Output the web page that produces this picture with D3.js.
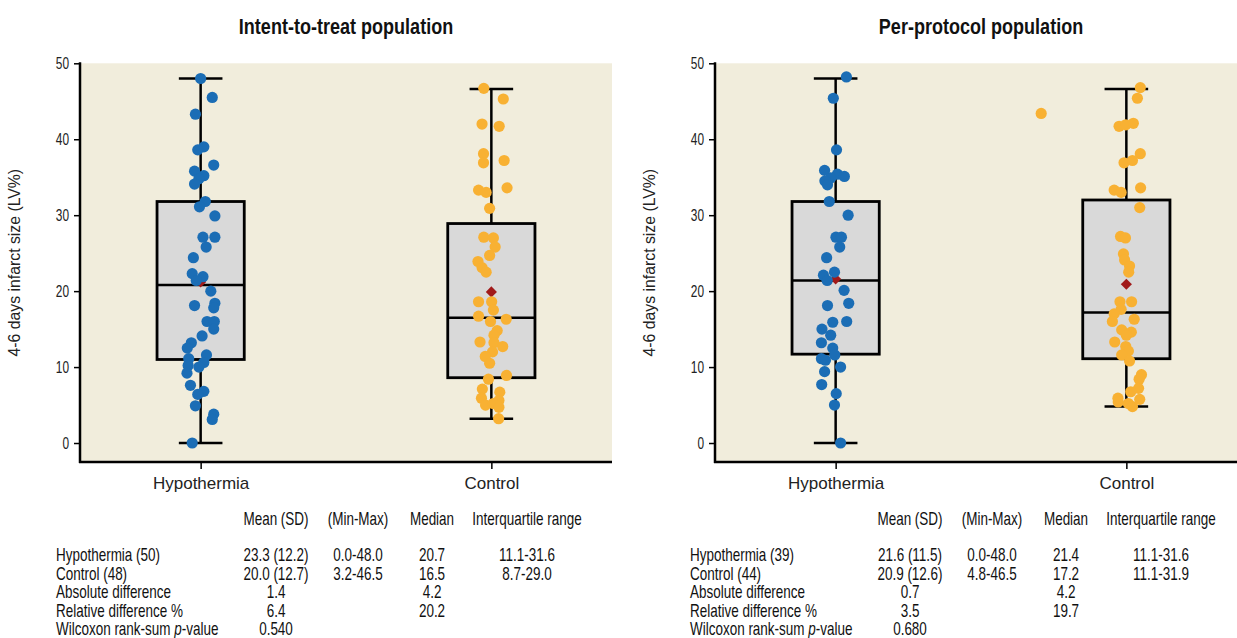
<!DOCTYPE html>
<html>
<head>
<meta charset="utf-8">
<script src="https://cdn.jsdelivr.net/npm/d3@7"></script>
<style>
  body { margin: 0; background: #fff; }
  svg { display: block; }
  text { font-family: 'Liberation Sans', Arial, sans-serif; }
</style>
</head>
<body>
<svg id="chart" width="1237" height="638"></svg>
<script>

// ---- data ----
let groups = ["Hypothermia", "Control"];
let panel_titles = ["Intent-to-treat population", "Per-protocol population"];
let y_ticks = [0, 10, 20, 30, 40, 50];

// box stats: [min, q1, median, q3, max, mean] per group
let itt_stats = [[0.0, 11.0, 20.8, 31.8, 48.0, 21.2], [3.2, 8.6, 16.5, 28.9, 46.6, 19.9]];
let pp_stats  = [[0.0, 11.7, 21.4, 31.8, 48.0, 21.6], [4.8, 11.1, 17.2, 32.0, 46.6, 20.9]];

// individual patients (values) and their horizontal jitter (category units)
let itt_hypo = [48.0, 45.5, 43.3, 39.0, 38.6, 36.6, 35.8, 35.2, 34.8, 34.1, 31.8, 31.1, 29.9, 27.1, 27.1, 25.8,
    24.4, 22.3, 21.9, 21.4, 20.0, 18.1, 18.4, 17.8, 16.0, 16.0, 15.0, 14.1, 13.2, 12.5, 11.6, 11.1, 10.6, 10.0,
    10.2, 9.2, 7.6, 6.8, 6.4, 4.9, 3.8, 3.1, 0.0];
let itt_hypo_jit = [0.0, 0.04, -0.018, 0.011, -0.01, 0.045, -0.021, 0.011, -0.006, -0.021, 0.016, -0.004, 0.049,
    0.008, 0.049, 0.019, -0.025, -0.029, 0.008, -0.015, 0.035, -0.021, 0.049, 0.045, 0.022, 0.047, 0.045, 0.005,
    -0.032, -0.046, 0.02, -0.041, 0.011, -0.006, -0.043, -0.047, -0.035, 0.011, -0.01, -0.018, 0.045, 0.04, -0.029];

let itt_ctrl = [46.7, 45.3, 42.0, 41.7, 38.1, 36.9, 37.2, 33.3, 33.0, 33.6, 30.9, 27.1, 27.0, 25.8, 24.7, 23.9,
    23.1, 22.5, 18.6, 18.6, 17.5, 16.7, 16.0, 16.3, 14.8, 14.2, 13.3, 13.2, 12.7, 12.0, 11.4, 10.5, 8.9, 8.4,
    7.1, 6.7, 5.9, 5.6, 5.0, 5.2, 4.7, 3.2];
let itt_ctrl_jit = [-0.026, 0.041, -0.032, 0.027, -0.027, -0.027, 0.044, -0.044, -0.018, 0.054, -0.006, -0.026,
    0.007, 0.013, -0.006, -0.046, -0.032, -0.018, -0.044, 0.001, 0.007, -0.044, -0.003, 0.051, 0.02, 0.009,
    -0.039, 0.009, 0.039, 0.004, -0.021, -0.006, 0.052, -0.01, -0.031, 0.029, -0.034, 0.026, -0.02, 0.006,
    0.026, 0.025];

let pp_hypo = [48.2, 45.4, 38.6, 35.9, 35.4, 35.1, 34.9, 34.5, 34.0, 31.8, 30.0, 27.1, 27.1, 25.8, 24.4, 22.1,
    22.5, 21.4, 20.1, 18.4, 18.1, 15.9, 16.0, 15.0, 14.2, 13.2, 12.5, 11.6, 11.1, 10.9, 10.0, 9.4, 7.7, 6.5,
    5.0, 0.0];
let pp_hypo_jit = [0.037, -0.008, 0.003, -0.038, 0.006, 0.03, -0.017, -0.037, -0.028, -0.022, 0.043, 0.001, 0.02,
    0.014, -0.031, -0.042, -0.004, -0.029, 0.029, 0.045, -0.028, -0.01, 0.038, -0.047, -0.017, -0.049, -0.01,
    -0.003, -0.049, -0.035, 0.017, -0.038, -0.048, 0.002, -0.004, 0.017];

let pp_ctrl = [46.8, 45.4, 41.7, 41.9, 42.1, 38.1, 36.9, 37.2, 33.3, 33.0, 33.6, 31.0, 27.2, 27.0, 24.9, 24.1,
    23.3, 22.5, 18.6, 18.6, 17.6, 17.0, 16.0, 16.3, 14.9, 14.6, 14.2, 13.3, 12.7, 12.1, 11.6, 10.8, 9.0, 8.4,
    7.2, 6.75, 5.9, 5.75, 5.4, 5.2, 4.8, 43.4];
let pp_ctrl_jit = [0.048, 0.038, -0.025, -0.002, 0.024, 0.048, -0.008, 0.021, -0.042, -0.018, 0.049, 0.046, -0.02,
    -0.003, -0.01, -0.006, 0.011, 0.008, -0.022, 0.018, -0.018, -0.042, -0.048, 0.027, -0.016, 0.017, 0.0,
    -0.04, -0.002, 0.007, -0.016, 0.011, 0.052, 0.044, 0.042, 0.015, -0.029, 0.046, -0.028, 0.007, 0.021, -0.293];

// summary tables
let table_head = ["Mean (SD)", "(Min-Max)", "Median", "Interquartile range"];
let table_rows = ["Hypothermia", "Control", "Absolute difference", "Relative difference %", "Wilcoxon rank-sum"];
let itt_n = [50, 48];
let pp_n = [39, 44];
let itt_table = [
    ["23.3 (12.2)", "0.0-48.0", "20.7", "11.1-31.6"],
    ["20.0 (12.7)", "3.2-46.5", "16.5", "8.7-29.0"],
    ["1.4", "", "4.2", ""],
    ["6.4", "", "20.2", ""],
    ["0.540", "", "", ""]];
let pp_table = [
    ["21.6 (11.5)", "0.0-48.0", "21.4", "11.1-31.6"],
    ["20.9 (12.6)", "4.8-46.5", "17.2", "11.1-31.9"],
    ["0.7", "", "4.2", ""],
    ["3.5", "", "19.7", ""],
    ["0.680", "", "", ""]];

// ---- layout ----
const colors = ["#1b6db5", "#f8b133"];
const plot_top = 63.3, plot_bottom = 462;
const squeeze = 0.77;   // no condensed font installed, so squash Liberation Sans
const panels = [
    { x0: 80,  x1: 612,  title: panel_titles[0], stats: itt_stats, pts: [itt_hypo, itt_ctrl], jit: [itt_hypo_jit, itt_ctrl_jit], n: itt_n, table: itt_table, tx: 56 },
    { x0: 715, x1: 1247, title: panel_titles[1], stats: pp_stats,  pts: [pp_hypo, pp_ctrl],   jit: [pp_hypo_jit, pp_ctrl_jit],   n: pp_n,  table: pp_table,  tx: 690 }
];

let svg = d3.select("#chart");

let y = d3.scaleLinear().domain([-2.5, 50]).range([plot_bottom, plot_top]);

function narrow_text(parent, x, y, anchor, size, sx){
    return parent.append("text")
        .attr("transform", "translate(" + x + "," + y + ") scale(" + sx + ",1)")
        .attr("text-anchor", anchor)
        .attr("font-size", size);
}

panels.forEach(function(p){
    let g = svg.append("g");

    // category scale, 1 unit = distance between groups
    let x = d3.scaleLinear().domain([0.585, 2.415]).range([p.x0, p.x1]);
    let unit = x(2) - x(1);
    let box_w = 0.3;

    g.append("rect")
        .attr("x", p.x0).attr("y", plot_top)
        .attr("width", p.x1 - p.x0).attr("height", plot_bottom - plot_top)
        .attr("fill", "#f1eddc");

    narrow_text(g, (p.x0 + p.x1) / 2, 34, "middle", 22, 0.82)
        .attr("font-weight", "bold").attr("fill", "#111")
        .text(p.title);

    // y axis
    let ya = g.append("g")
        .attr("transform", "translate(" + p.x0 + ",0)")
        .call(d3.axisLeft(y).tickValues(y_ticks).tickSize(6).tickSizeOuter(0).tickPadding(5));
    ya.select(".domain").remove();
    ya.selectAll(".tick line").attr("stroke-width", 1.5);
    ya.selectAll("text")
        .attr("font-size", 16.5).attr("fill", "#222")
        .attr("x", -11 / 0.72)
        .attr("transform", "scale(0.72,1)");
    g.append("line")
        .attr("x1", p.x0).attr("x2", p.x0)
        .attr("y1", plot_top - 1).attr("y2", plot_bottom + 1)
        .attr("stroke", "#000").attr("stroke-width", 2.5);

    // x axis
    let xa = g.append("g")
        .attr("transform", "translate(0," + plot_bottom + ")")
        .call(d3.axisBottom(x).tickValues([1, 2]).tickFormat(function(d){ return groups[d - 1]; })
              .tickSize(7).tickPadding(8));
    xa.select(".domain").remove();
    xa.selectAll(".tick line").attr("stroke-width", 1.5);
    xa.selectAll("text").attr("font-size", 17).attr("fill", "#222");
    g.append("line")
        .attr("x1", p.x0 - 1).attr("x2", p.x1)
        .attr("y1", plot_bottom).attr("y2", plot_bottom)
        .attr("stroke", "#000").attr("stroke-width", 2.5);

    g.append("text")
        .attr("transform", "translate(" + (p.x0 - 60) + "," + ((plot_top + plot_bottom) / 2) + ") rotate(-90)")
        .attr("text-anchor", "middle")
        .attr("font-size", 15.8).attr("fill", "#222")
        .text("4-6 days infarct size (LV%)");

    p.stats.forEach(function(s, i){
        let cx = x(i + 1);
        let bg = g.append("g");
        // whisker
        bg.append("line").attr("x1", cx).attr("x2", cx).attr("y1", y(s[0])).attr("y2", y(s[4]))
            .attr("stroke", "#000").attr("stroke-width", 2.5);
        [s[0], s[4]].forEach(function(v){
            bg.append("line").attr("x1", cx - 0.075 * unit).attr("x2", cx + 0.075 * unit)
                .attr("y1", y(v)).attr("y2", y(v))
                .attr("stroke", "#000").attr("stroke-width", 2.5);
        });
        bg.append("rect")
            .attr("x", cx - box_w / 2 * unit).attr("y", y(s[3]))
            .attr("width", box_w * unit).attr("height", y(s[1]) - y(s[3]))
            .attr("fill", "#d9d9d9").attr("stroke", "#000").attr("stroke-width", 2.8);
        bg.append("line")
            .attr("x1", cx - box_w / 2 * unit).attr("x2", cx + box_w / 2 * unit)
            .attr("y1", y(s[2])).attr("y2", y(s[2]))
            .attr("stroke", "#000").attr("stroke-width", 2.5);
        bg.append("path")
            .attr("d", d3.symbol().type(d3.symbolSquare).size(62)())
            .attr("transform", "translate(" + cx + "," + y(s[5]) + ") rotate(45)")
            .attr("fill", "#a11a1a");

        g.append("g").selectAll("circle")
            .data(p.pts[i])
            .enter().append("circle")
                .attr("cx", function(d, j){ return x(i + 1 + p.jit[i][j]); })
                .attr("cy", function(d){ return y(d); })
                .attr("r", 5.6)
                .attr("fill", colors[i]);
    });

    // summary table
    let cols = [p.tx + 220, p.tx + 302, p.tx + 376, p.tx + 471];
    let tg = g.append("g").attr("fill", "#111");
    table_head.forEach(function(h, c){
        narrow_text(tg, cols[c], 525, "middle", 17.5, squeeze).text(h);
    });
    table_rows.forEach(function(r, k){
        let ry = 561 + k * 18.5;
        let lab = narrow_text(tg, p.tx, ry, "start", 17.5, squeeze);
        if (k < 2) lab.text(r + " (" + p.n[k] + ")");
        else if (k == 4) {
            lab.text(r + " ");
            lab.append("tspan").attr("font-style", "italic").text("p");
            lab.append("tspan").text("-value");
        }
        else lab.text(r);
        p.table[k].forEach(function(v, c){
            if (v == "") return;
            narrow_text(tg, cols[c], ry, "middle", 17.5, squeeze).text(v);
        });
    });
});

</script>
</body>
</html>
